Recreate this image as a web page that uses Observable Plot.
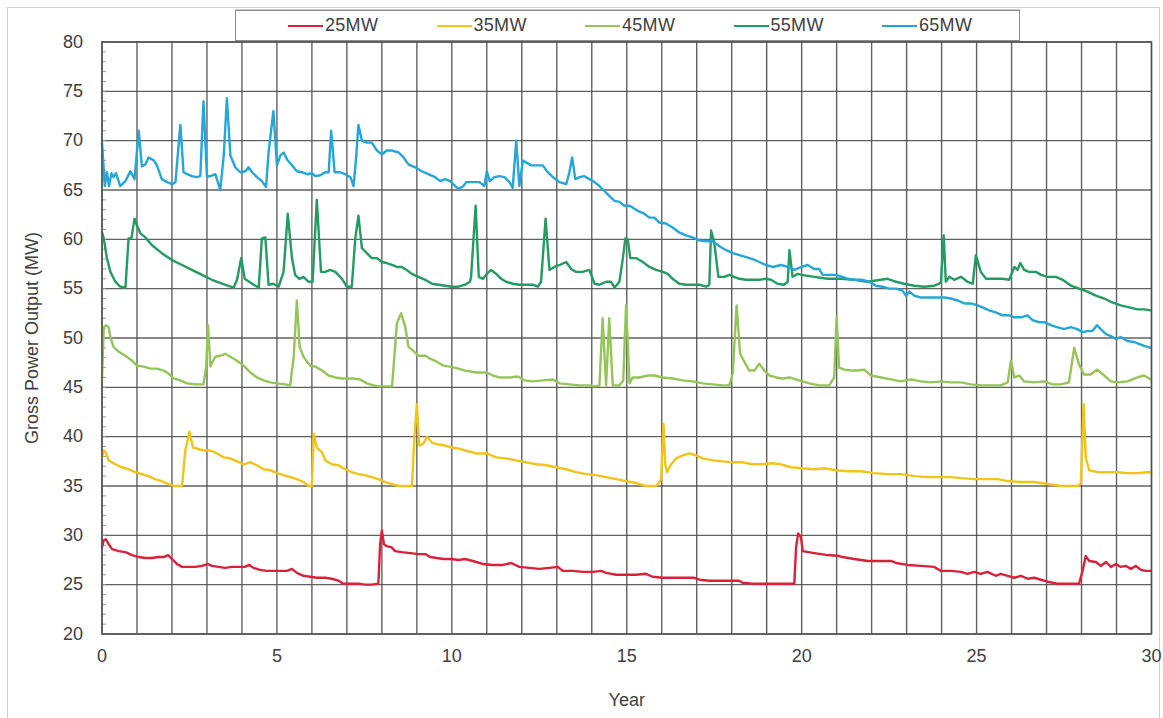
<!DOCTYPE html>
<html>
<head>
<meta charset="utf-8">
<script src="https://cdn.jsdelivr.net/npm/d3@7"></script>
<script src="https://cdn.jsdelivr.net/npm/@observablehq/plot@0.6"></script>
<style>
  html, body { margin: 0; padding: 0; background: #fff; }
  #wrap { position: relative; width: 1163px; height: 718px; overflow: hidden; font-family: "Liberation Sans", Arial, sans-serif; }
  #outer { position: absolute; left: 7px; top: 7px; width: 1153px; height: 712px; border: 1px solid #d2d2d2; box-sizing: border-box; }
  #legend { position: absolute; left: 235px; top: 10px; width: 785px; height: 31px; border: 1px solid #8c8c8c; box-sizing: border-box; background: #fff; z-index: 2; box-shadow: 0 -1px 0 #c8c8c8; }
  .item { position: absolute; top: 0; height: 29px; display: flex; align-items: center; font-size: 18px; letter-spacing: 0.3px; color: #404040; }
  .sw { width: 35px; height: 2px; margin-right: 2px; }
  #chart { position: absolute; left: 0; top: 0; }
</style>
</head>
<body>
<div id="wrap">
  <div id="outer"></div>
  <div id="legend"></div>
  <div id="chart"></div>
</div>
<script>
// ---- data (year, MW) ----
const seriesNames = ["25MW", "35MW", "45MW", "55MW", "65MW"];
const seriesColors = ["#d9213a", "#f0c419", "#95c559", "#229c60", "#25a6da"];

const xTicks = [0, 5, 10, 15, 20, 25, 30];
const yTicks = [20, 25, 30, 35, 40, 45, 50, 55, 60, 65, 70, 75, 80];
const yearGrid = d3.range(0, 31);
const minorTicks = d3.range(20, 81);

const mw25 = [[0,28.8],[0.05,29.5],[0.11,29.6],[0.19,29.1],[0.29,28.6],[0.48,28.4],[0.67,28.3],[0.86,28.0],[1.05,27.8],[1.24,27.7],[1.43,27.7],[1.62,27.8],[1.76,27.8],[1.89,28.0],[2.0,27.6],[2.14,27.1],[2.29,26.8],[2.48,26.8],[2.67,26.8],[2.86,26.9],[3.03,27.1],[3.14,26.9],[3.33,26.8],[3.52,26.7],[3.71,26.8],[3.9,26.8],[4.08,26.8],[4.21,27.0],[4.33,26.7],[4.52,26.5],[4.71,26.4],[4.9,26.4],[5.1,26.4],[5.29,26.4],[5.43,26.6],[5.57,26.2],[5.76,25.9],[5.95,25.8],[6.14,25.7],[6.38,25.7],[6.57,25.6],[6.76,25.4],[6.9,25.1],[7.14,25.1],[7.33,25.1],[7.52,25.0],[7.71,25.0],[7.9,25.1],[7.95,29.1],[8.0,30.5],[8.06,29.1],[8.14,28.9],[8.27,28.8],[8.38,28.4],[8.57,28.3],[8.81,28.2],[9.05,28.1],[9.24,28.1],[9.38,27.8],[9.57,27.7],[9.76,27.6],[10.0,27.6],[10.19,27.5],[10.38,27.6],[10.6,27.4],[10.88,27.1],[11.17,27.0],[11.46,27.0],[11.7,27.2],[11.93,26.8],[12.22,26.7],[12.5,26.6],[12.79,26.7],[13.03,26.8],[13.17,26.4],[13.46,26.4],[13.74,26.3],[14.03,26.3],[14.27,26.4],[14.41,26.2],[14.7,26.0],[15.0,26.0],[15.27,26.0],[15.55,26.1],[15.74,25.8],[16.03,25.7],[16.31,25.7],[16.6,25.7],[16.93,25.7],[17.08,25.5],[17.36,25.4],[17.65,25.4],[17.93,25.4],[18.22,25.4],[18.31,25.2],[18.6,25.1],[18.98,25.1],[19.36,25.1],[19.79,25.1],[19.84,28.8],[19.9,30.2],[19.98,29.8],[20.03,28.4],[20.36,28.2],[20.74,28.0],[21.08,27.9],[21.17,27.8],[21.5,27.6],[21.89,27.4],[22.27,27.4],[22.55,27.4],[22.7,27.2],[23.03,27.0],[23.41,26.9],[23.79,26.8],[23.98,26.4],[24.27,26.4],[24.55,26.3],[24.74,26.1],[24.93,26.3],[25.12,26.1],[25.31,26.3],[25.55,25.9],[25.69,26.1],[25.89,25.9],[26.08,25.7],[26.27,25.9],[26.46,25.6],[26.65,25.7],[26.84,25.5],[27.03,25.3],[27.31,25.1],[27.69,25.1],[27.93,25.1],[28.03,26.4],[28.12,27.9],[28.22,27.4],[28.41,27.3],[28.55,26.9],[28.7,27.3],[28.84,26.8],[28.98,27.1],[29.12,26.8],[29.27,26.9],[29.41,26.6],[29.55,26.9],[29.7,26.5],[29.84,26.4],[29.98,26.4]];

const mw35 = [[0,37.9],[0.05,38.6],[0.11,38.4],[0.19,37.6],[0.38,37.2],[0.57,36.9],[0.76,36.7],[0.95,36.4],[1.14,36.2],[1.33,36.0],[1.52,35.7],[1.71,35.5],[1.9,35.2],[2.05,35.0],[2.29,35.0],[2.38,38.6],[2.5,40.5],[2.6,38.9],[2.71,38.8],[2.9,38.6],[3.1,38.6],[3.29,38.3],[3.48,37.9],[3.67,37.8],[3.86,37.5],[4.05,37.2],[4.24,37.4],[4.43,37.1],[4.62,36.7],[4.81,36.6],[5.0,36.3],[5.19,36.1],[5.38,35.9],[5.57,35.7],[5.76,35.4],[5.9,35.0],[6.0,35.0],[6.05,40.3],[6.14,38.9],[6.29,38.4],[6.38,37.6],[6.57,37.2],[6.76,37.1],[6.95,36.7],[7.14,36.4],[7.33,36.2],[7.52,36.1],[7.71,35.9],[7.9,35.7],[8.1,35.4],[8.29,35.2],[8.48,35.0],[8.86,35.0],[8.93,40.0],[9.0,43.3],[9.07,39.1],[9.19,39.3],[9.29,40.0],[9.43,39.4],[9.62,39.2],[9.81,39.1],[10.0,38.9],[10.19,38.8],[10.38,38.6],[10.7,38.3],[11.0,38.3],[11.27,37.9],[11.55,37.8],[11.84,37.6],[12.12,37.4],[12.41,37.2],[12.7,37.1],[12.98,36.9],[13.27,36.7],[13.55,36.4],[13.84,36.2],[14.12,36.1],[14.41,35.9],[14.7,35.7],[14.98,35.5],[15.27,35.3],[15.55,35.0],[15.84,35.0],[15.98,35.6],[16.05,41.3],[16.1,37.2],[16.15,36.4],[16.27,37.2],[16.41,37.8],[16.6,38.1],[16.79,38.3],[16.98,38.1],[17.17,37.8],[17.46,37.6],[17.74,37.5],[18.03,37.4],[18.31,37.4],[18.6,37.2],[18.89,37.2],[19.17,37.3],[19.41,37.2],[19.7,36.9],[20.0,36.8],[20.36,36.7],[20.65,36.8],[20.98,36.6],[21.31,36.5],[21.7,36.5],[22.08,36.3],[22.46,36.2],[22.84,36.2],[23.22,36.0],[23.6,35.9],[23.98,35.9],[24.27,35.9],[24.55,35.8],[24.93,35.7],[25.31,35.7],[25.6,35.7],[25.89,35.5],[26.27,35.4],[26.65,35.4],[27.03,35.2],[27.41,35.0],[27.89,35.0],[27.98,35.2],[28.06,43.3],[28.12,37.9],[28.22,36.6],[28.46,36.4],[28.74,36.4],[29.03,36.4],[29.31,36.3],[29.6,36.3],[29.89,36.4],[30,36.4]];

const mw45 = [[0,45.7],[0.05,51.1],[0.12,51.3],[0.19,51.1],[0.24,50.1],[0.33,49.1],[0.48,48.6],[0.67,48.2],[0.86,47.7],[1.0,47.2],[1.19,47.1],[1.38,46.9],[1.57,46.9],[1.76,46.7],[1.9,46.4],[2.05,45.9],[2.24,45.7],[2.43,45.4],[2.67,45.3],[2.9,45.3],[2.98,47.2],[3.03,51.3],[3.1,47.1],[3.16,47.6],[3.24,48.1],[3.38,48.2],[3.52,48.4],[3.67,48.1],[3.86,47.7],[4.05,47.2],[4.24,46.5],[4.43,46.0],[4.62,45.7],[4.81,45.5],[5.0,45.4],[5.24,45.3],[5.38,45.2],[5.48,48.1],[5.57,53.8],[5.65,49.1],[5.76,48.1],[5.95,47.2],[6.1,47.1],[6.29,46.7],[6.48,46.2],[6.67,46.0],[6.86,45.9],[7.05,45.9],[7.19,45.9],[7.38,45.8],[7.57,45.4],[7.76,45.2],[7.9,45.1],[8.1,45.1],[8.29,45.1],[8.43,51.5],[8.55,52.5],[8.67,51.1],[8.76,49.1],[8.9,48.7],[9.05,48.2],[9.24,48.2],[9.38,47.9],[9.57,47.6],[9.76,47.2],[9.95,47.1],[10.19,46.9],[10.38,46.7],[10.7,46.5],[11.0,46.5],[11.17,46.2],[11.36,46.0],[11.65,46.0],[11.89,46.1],[12.08,45.7],[12.31,45.6],[12.6,45.7],[12.89,45.8],[13.08,45.4],[13.36,45.3],[13.65,45.2],[13.93,45.2],[14.08,45.1],[14.22,45.2],[14.31,52.0],[14.41,45.2],[14.5,52.0],[14.6,45.2],[14.79,45.2],[14.9,45.7],[14.98,53.3],[15.08,45.4],[15.17,46.0],[15.36,46.0],[15.6,46.2],[15.79,46.2],[16.03,46.0],[16.31,45.9],[16.6,45.7],[16.89,45.6],[17.17,45.4],[17.46,45.3],[17.74,45.2],[17.93,45.2],[18.03,46.4],[18.14,53.3],[18.24,48.4],[18.36,47.6],[18.5,46.7],[18.65,46.7],[18.79,47.4],[18.93,46.7],[19.08,46.2],[19.27,46.0],[19.46,45.9],[19.65,46.0],[19.93,45.7],[20.22,45.4],[20.5,45.2],[20.79,45.2],[20.93,46.0],[21.0,52.1],[21.07,47.0],[21.22,46.8],[21.41,46.7],[21.6,46.7],[21.79,46.8],[21.98,46.2],[22.27,46.0],[22.55,45.8],[22.84,45.6],[23.12,45.8],[23.41,45.6],[23.7,45.5],[23.98,45.6],[24.27,45.5],[24.55,45.5],[24.84,45.3],[25.12,45.2],[25.4,45.2],[25.69,45.2],[25.89,45.5],[25.98,47.7],[26.08,46.0],[26.22,46.2],[26.36,45.6],[26.65,45.5],[26.93,45.6],[27.17,45.3],[27.41,45.3],[27.64,45.5],[27.79,49.0],[27.93,47.3],[28.07,46.3],[28.26,46.3],[28.45,46.8],[28.65,46.2],[28.84,45.6],[29.03,45.5],[29.31,45.6],[29.6,46.0],[29.79,46.2],[29.98,45.8]];

const mw55 = [[0,60.7],[0.05,60.1],[0.14,58.1],[0.24,56.7],[0.38,55.7],[0.52,55.2],[0.67,55.1],[0.76,60.1],[0.84,60.1],[0.93,62.1],[1.0,61.4],[1.1,60.6],[1.24,60.2],[1.43,59.4],[1.71,58.6],[2.0,57.9],[2.29,57.4],[2.57,56.9],[2.86,56.4],[3.14,55.9],[3.43,55.5],[3.76,55.1],[3.86,55.9],[3.98,58.1],[4.08,56.0],[4.29,55.5],[4.48,55.1],[4.57,60.1],[4.67,60.2],[4.76,55.4],[4.9,55.5],[5.05,55.2],[5.19,56.7],[5.31,62.6],[5.43,58.1],[5.52,56.4],[5.64,56.0],[5.76,56.2],[5.9,55.7],[6.02,55.7],[6.14,64.0],[6.26,56.7],[6.38,56.7],[6.52,56.9],[6.67,56.7],[6.86,56.0],[7.0,55.2],[7.14,55.2],[7.24,60.1],[7.33,62.4],[7.43,59.1],[7.57,58.6],[7.71,58.1],[7.86,58.1],[8.0,57.7],[8.14,57.6],[8.29,57.4],[8.43,57.2],[8.57,57.2],[8.71,56.9],[8.86,56.5],[9.05,56.2],[9.24,55.9],[9.43,55.5],[9.62,55.4],[9.81,55.3],[10.0,55.2],[10.19,55.2],[10.38,55.4],[10.52,55.7],[10.55,56.2],[10.68,63.4],[10.77,56.2],[10.89,56.0],[11.0,56.5],[11.12,56.9],[11.27,56.5],[11.41,56.0],[11.55,55.7],[11.74,55.5],[11.93,55.4],[12.12,55.4],[12.31,55.4],[12.46,55.2],[12.55,55.7],[12.68,62.1],[12.79,56.9],[12.93,57.2],[13.08,57.4],[13.27,57.7],[13.41,57.0],[13.55,56.7],[13.74,56.7],[13.93,56.9],[14.08,55.5],[14.22,55.4],[14.41,55.7],[14.55,55.7],[14.65,55.1],[14.79,55.7],[14.89,58.1],[14.96,60.1],[15.03,60.0],[15.1,58.1],[15.27,58.1],[15.46,57.7],[15.65,57.2],[15.84,56.9],[16.03,56.7],[16.17,56.5],[16.31,56.0],[16.5,55.5],[16.69,55.4],[16.88,55.4],[17.07,55.4],[17.27,55.2],[17.36,55.4],[17.41,60.9],[17.5,59.7],[17.62,56.2],[17.79,56.2],[17.93,56.4],[18.07,56.2],[18.22,56.0],[18.41,55.9],[18.6,55.9],[18.79,55.9],[18.98,56.0],[19.12,55.9],[19.31,55.5],[19.5,55.4],[19.6,55.7],[19.65,58.9],[19.74,56.2],[19.89,56.5],[20.0,56.4],[20.36,56.2],[20.74,56.0],[21.12,56.0],[21.5,55.9],[21.88,55.7],[22.26,55.9],[22.46,56.0],[22.7,55.7],[22.93,55.5],[23.22,55.3],[23.5,55.2],[23.79,55.3],[23.93,55.5],[23.98,55.7],[24.06,60.4],[24.12,55.7],[24.22,56.2],[24.36,55.9],[24.55,56.2],[24.74,55.7],[24.89,55.5],[24.98,58.4],[25.12,56.7],[25.27,56.0],[25.5,56.0],[25.74,56.0],[25.93,55.9],[26.08,57.2],[26.17,56.9],[26.25,57.6],[26.36,56.9],[26.5,56.7],[26.7,56.7],[26.84,56.4],[27.03,56.2],[27.27,56.2],[27.46,55.9],[27.7,55.3],[27.93,55.0],[28.17,54.7],[28.41,54.3],[28.65,54.0],[28.88,53.6],[29.12,53.3],[29.36,53.1],[29.6,52.9],[29.79,52.9],[29.98,52.8]];

const mw65 = [[0,69.8],[0.08,65.4],[0.14,66.8],[0.2,65.4],[0.27,66.7],[0.33,66.3],[0.4,66.7],[0.52,65.4],[0.67,65.9],[0.81,66.9],[0.93,66.1],[1.05,71.0],[1.14,67.4],[1.24,67.6],[1.33,68.3],[1.48,68.0],[1.57,67.5],[1.71,66.1],[1.86,65.8],[2.0,65.6],[2.1,65.8],[2.24,71.6],[2.33,66.8],[2.43,66.6],[2.57,66.4],[2.71,66.3],[2.81,66.4],[2.9,74.0],[3.0,66.4],[3.1,66.4],[3.24,66.6],[3.38,65.0],[3.48,68.5],[3.57,74.3],[3.67,68.5],[3.81,67.3],[3.95,66.8],[4.1,66.9],[4.19,67.3],[4.29,66.8],[4.43,66.3],[4.57,65.9],[4.69,65.3],[4.76,68.8],[4.9,73.0],[5.0,67.5],[5.1,68.5],[5.19,68.8],[5.29,68.1],[5.43,67.5],[5.57,66.9],[5.71,66.8],[5.86,66.6],[6.0,66.7],[6.1,66.4],[6.24,66.5],[6.38,66.8],[6.48,66.8],[6.55,71.0],[6.65,66.8],[6.81,66.8],[6.95,66.6],[7.1,66.3],[7.19,65.4],[7.26,68.1],[7.33,71.6],[7.43,70.0],[7.57,69.8],[7.71,69.8],[7.86,69.0],[8.0,68.6],[8.14,69.0],[8.29,69.0],[8.48,68.8],[8.62,68.3],[8.76,67.6],[8.95,67.3],[9.14,66.9],[9.33,66.6],[9.52,66.3],[9.67,65.9],[9.81,66.1],[9.95,65.9],[10.1,65.4],[10.19,65.1],[10.33,65.4],[10.41,65.8],[10.79,65.8],[10.93,65.4],[11.0,66.9],[11.08,65.9],[11.22,66.3],[11.36,66.4],[11.5,66.3],[11.65,65.8],[11.74,65.2],[11.84,70.0],[11.93,65.4],[12.03,68.0],[12.12,67.8],[12.27,67.5],[12.46,67.5],[12.6,67.5],[12.74,66.8],[12.89,66.3],[13.08,65.8],[13.27,65.6],[13.36,66.8],[13.44,68.3],[13.53,66.1],[13.65,66.3],[13.79,66.4],[13.93,66.1],[14.08,65.8],[14.22,65.4],[14.36,64.9],[14.5,64.4],[14.65,63.9],[14.79,63.8],[14.93,63.4],[15.08,63.4],[15.22,63.1],[15.36,62.8],[15.5,62.6],[15.65,62.2],[15.79,62.2],[15.93,61.7],[16.12,61.6],[16.31,61.2],[16.5,60.7],[16.69,60.4],[16.88,60.2],[17.07,59.9],[17.27,59.8],[17.46,59.8],[17.65,59.3],[17.84,58.9],[18.03,58.6],[18.22,58.4],[18.41,58.2],[18.6,58.0],[18.79,57.7],[18.98,57.4],[19.17,57.2],[19.41,57.4],[19.6,57.2],[19.79,56.9],[20.0,57.2],[20.17,57.4],[20.36,57.0],[20.5,57.0],[20.6,56.4],[20.79,56.4],[20.98,56.4],[21.17,56.2],[21.31,56.0],[21.5,55.9],[21.74,55.9],[21.93,55.7],[22.12,55.3],[22.31,55.2],[22.5,55.0],[22.7,55.0],[22.88,54.8],[22.98,54.3],[23.08,54.7],[23.22,54.3],[23.41,54.1],[23.65,54.1],[23.89,54.1],[24.08,54.1],[24.27,54.0],[24.46,53.8],[24.65,53.5],[24.84,53.5],[25.03,53.3],[25.17,53.1],[25.36,52.8],[25.55,52.6],[25.74,52.3],[25.93,52.3],[26.08,52.1],[26.27,52.1],[26.46,52.3],[26.6,51.8],[26.79,51.6],[26.93,51.6],[27.12,51.3],[27.3,51.1],[27.5,50.9],[27.69,51.1],[27.88,50.9],[28.03,50.6],[28.17,50.7],[28.31,50.7],[28.44,51.3],[28.55,50.9],[28.7,50.4],[28.84,50.2],[28.98,49.9],[29.12,50.1],[29.31,49.7],[29.5,49.6],[29.64,49.4],[29.79,49.2],[29.98,49.0]];

// ---- build a long table for Plot ----
const seriesData = [mw25, mw35, mw45, mw55, mw65];
const rows = seriesData.flatMap((arr, i) =>
  arr.map(([year, value]) => ({ series: seriesNames[i], year, value })));

// ---- legend (HTML, over the top edge of the chart) ----
const legend = document.getElementById("legend");
seriesNames.forEach((name, i) => {
  const item = document.createElement("div");
  item.className = "item";
  item.style.left = (52 + i * 148.5) + "px";
  const sw = document.createElement("span");
  sw.className = "sw";
  sw.style.background = seriesColors[i];
  const label = document.createElement("span");
  label.textContent = name;
  item.append(sw, label);
  legend.append(item);
});

// ---- chart ----
const chart = Plot.plot({
  width: 1163,
  height: 718,
  marginLeft: 101.5,
  marginRight: 12,
  marginTop: 41.5,
  marginBottom: 84.5,
  style: {
    fontFamily: "'Liberation Sans', Arial, sans-serif",
    fontSize: "18px",
    color: "#404040",
    background: "transparent",
    overflow: "visible"
  },
  x: { domain: [0, 30] },
  y: { domain: [20, 80] },
  color: { domain: seriesNames, range: seriesColors },
  marks: [
    Plot.gridX(yearGrid, { stroke: "#505050", strokeOpacity: 0.9, strokeWidth: 1.4 }),
    Plot.gridY(yTicks, { stroke: "#505050", strokeOpacity: 0.9, strokeWidth: 1.4 }),
    Plot.ruleY(minorTicks, { y: d => d, x1: 0, x2: 0.13, stroke: "#999", strokeWidth: 1 }),
    Plot.line(rows, { x: "year", y: "value", z: "series", stroke: "series", strokeWidth: 2.4, strokeLinejoin: "round" }),
    Plot.frame({ stroke: "#505050", strokeWidth: 1.4 }),
    Plot.axisX(xTicks, { tickSize: 0, tickPadding: 15, label: "Year", labelAnchor: "center", labelOffset: 72, labelArrow: "none" }),
    Plot.axisY(yTicks, { tickSize: 0, tickPadding: 19, label: "Gross Power Output (MW)", labelAnchor: "center", labelOffset: 77, labelArrow: "none" })
  ]
});
document.getElementById("chart").append(chart);
</script>
</body>
</html>
